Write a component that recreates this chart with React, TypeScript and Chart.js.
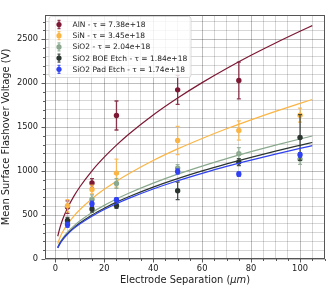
import React, { useEffect, useRef } from "react";
import { Chart, registerables } from "chart.js";

Chart.register(...registerables);

// ---- data ----
const seriesNames = [
  "AlN - τ = 7.38e+18",
  "SiN - τ = 3.45e+18",
  "SiO2 - τ = 2.04e+18",
  "SiO2 BOE Etch - τ = 1.84e+18",
  "SiO2 Pad Etch - τ = 1.74e+18",
];
const seriesColors = ["#7d1834", "#fbb545", "#8aa98e", "#2b3630", "#2f41f2"];

const alnSep = [5, 15, 25, 50, 75];
const alnV = [590, 864, 1632, 1924, 2030];
const alnErr = [70, 50, 165, 165, 210];

const sep = [5, 15, 25, 50, 75, 100];
const sinV = [605, 791, 977, 1348, 1461, 1636];
const sinErr = [70, 50, 160, 160, 110, 80];
const sio2V = [420, 680, 859, 1034, 1197, 1136];
const sio2Err = [30, 50, 55, 40, 70, 60];
const boeV = [439, 568, 606, 776, 1102, 1382];
const boeErr = [35, 35, 30, 100, 40, 260];
const padV = [390, 628, 674, 995, 966, 1185];
const padErr = [30, 30, 25, 30, 25, 25];

// fitted curves
const fitSep = [1, 2, 3, 5, 7.5, 10, 15, 20, 25, 30, 40, 50, 60, 70, 80, 90, 100, 105];
const alnFit = [259, 366, 449, 579, 709, 819, 1003, 1158, 1295, 1419, 1638, 1831, 2006, 2167, 2317, 2457, 2590, 2654];
const sinFit = [177, 250, 307, 396, 485, 560, 686, 792, 885, 969, 1120, 1252, 1371, 1481, 1583, 1679, 1770, 1814];
const sio2Fit = [137, 193, 236, 305, 374, 432, 529, 610, 683, 748, 863, 965, 1057, 1142, 1221, 1295, 1365, 1399];
const boeFit = [129, 183, 224, 289, 354, 409, 501, 578, 647, 708, 818, 914, 1002, 1082, 1156, 1227, 1293, 1325];
const padFit = [126, 178, 218, 281, 345, 398, 487, 563, 629, 689, 796, 890, 974, 1053, 1125, 1193, 1258, 1289];

const xMajorTicks = [0, 20, 40, 60, 80, 100];
const yMajorTicks = [0, 500, 1000, 1500, 2000, 2500];

const xTitleMain = "Electrode Separation (";
const xTitleUnit = "μm";
const yTitle = "Mean Surface Flashover Voltage (V)";

const FONT = "'DejaVu Sans', sans-serif";

function hexA(hex: string, a: number) {
  const n = parseInt(hex.slice(1), 16);
  return `rgba(${(n >> 16) & 255},${(n >> 8) & 255},${n & 255},${a})`;
}

const groups = [
  { x: alnSep, v: alnV, e: alnErr, fit: alnFit },
  { x: sep, v: sinV, e: sinErr, fit: sinFit },
  { x: sep, v: sio2V, e: sio2Err, fit: sio2Fit },
  { x: sep, v: boeV, e: boeErr, fit: boeFit },
  { x: sep, v: padV, e: padErr, fit: padFit },
];

const errorBarPlugin = {
  id: "errorBars",
  beforeDatasetDraw(chart: any, args: any) {
    const ds: any = chart.data.datasets[args.index];
    if (!ds.errors) return;
    const xs = chart.scales.x;
    const ys = chart.scales.y;
    const ctx = chart.ctx;
    ctx.save();
    ctx.strokeStyle = hexA(ds.baseColor, 0.85);
    ctx.lineWidth = 1.3;
    ds.data.forEach((p: any, i: number) => {
      const px = xs.getPixelForValue(p.x);
      const y1 = ys.getPixelForValue(p.y + ds.errors[i]);
      const y2 = ys.getPixelForValue(p.y - ds.errors[i]);
      ctx.beginPath();
      ctx.moveTo(px, y1);
      ctx.lineTo(px, y2);
      ctx.moveTo(px - 2, y1);
      ctx.lineTo(px + 2, y1);
      ctx.moveTo(px - 2, y2);
      ctx.lineTo(px + 2, y2);
      ctx.stroke();
    });
    ctx.restore();
  },
};

const decorPlugin = {
  id: "decor",
  afterDraw(chart: any) {
    const ctx = chart.ctx;
    const a = chart.chartArea;
    const xs = chart.scales.x;
    const ys = chart.scales.y;
    ctx.save();
    // tick marks
    ctx.strokeStyle = "#333";
    ctx.lineWidth = 0.8;
    ctx.beginPath();
    for (let v = 0; v <= 110; v += 5) {
      const px = Math.round(xs.getPixelForValue(v)) + 0.5;
      const len = v % 20 === 0 ? 3.5 : 2;
      ctx.moveTo(px, a.bottom);
      ctx.lineTo(px, a.bottom + len);
    }
    for (let v = 0; v <= 2700; v += 100) {
      const py = Math.round(ys.getPixelForValue(v)) + 0.5;
      const len = v % 500 === 0 ? 3.5 : 2;
      ctx.moveTo(a.left, py);
      ctx.lineTo(a.left - len, py);
    }
    ctx.stroke();
    // spines
    ctx.strokeStyle = "#555";
    ctx.lineWidth = 1;
    ctx.strokeRect(a.left + 0.5, a.top + 0.5, a.right - a.left - 1, a.bottom - a.top - 1);

    // x title with italic unit
    ctx.fillStyle = "#222";
    ctx.textBaseline = "middle";
    const fs = 9.9;
    ctx.font = `${fs}px ${FONT}`;
    const w1 = ctx.measureText(xTitleMain).width;
    ctx.font = `italic ${fs}px ${FONT}`;
    const w2 = ctx.measureText(xTitleUnit).width;
    ctx.font = `${fs}px ${FONT}`;
    const w3 = ctx.measureText(")").width;
    const cx = (a.left + a.right) / 2;
    let x0 = cx - (w1 + w2 + w3) / 2;
    const ty = 280.5;
    ctx.textAlign = "left";
    ctx.fillText(xTitleMain, x0, ty);
    ctx.font = `italic ${fs}px ${FONT}`;
    ctx.fillText(xTitleUnit, x0 + w1, ty);
    ctx.font = `${fs}px ${FONT}`;
    ctx.fillText(")", x0 + w1 + w2, ty);

    // y title
    ctx.save();
    ctx.translate(6.5, (a.top + a.bottom) / 2);
    ctx.rotate(-Math.PI / 2);
    ctx.textAlign = "center";
    ctx.fillText(yTitle, 0, 0);
    ctx.restore();

    // legend
    const lx = 49, ly = 16.5, lw = 142, lh = 61;
    ctx.beginPath();
    const r = 2.5;
    ctx.moveTo(lx + r, ly);
    ctx.arcTo(lx + lw, ly, lx + lw, ly + lh, r);
    ctx.arcTo(lx + lw, ly + lh, lx, ly + lh, r);
    ctx.arcTo(lx, ly + lh, lx, ly, r);
    ctx.arcTo(lx, ly, lx + lw, ly, r);
    ctx.closePath();
    ctx.fillStyle = "rgba(255,255,255,0.8)";
    ctx.fill();
    ctx.strokeStyle = "#d0d0d0";
    ctx.lineWidth = 0.8;
    ctx.stroke();
    ctx.font = `7.5px ${FONT}`;
    ctx.textAlign = "left";
    ctx.textBaseline = "middle";
    seriesNames.forEach((name, i) => {
      const yy = 24.5 + i * 11.2;
      const col = seriesColors[i];
      ctx.strokeStyle = hexA(col, 0.85);
      ctx.lineWidth = 1.3;
      ctx.beginPath();
      ctx.moveTo(59, yy - 4);
      ctx.lineTo(59, yy + 4);
      ctx.moveTo(57.5, yy - 4);
      ctx.lineTo(60.5, yy - 4);
      ctx.moveTo(57.5, yy + 4);
      ctx.lineTo(60.5, yy + 4);
      ctx.stroke();
      ctx.fillStyle = col;
      ctx.beginPath();
      ctx.arc(59, yy, 2.6, 0, Math.PI * 2);
      ctx.fill();
      ctx.fillStyle = "#222";
      ctx.fillText(name, 72.5, yy + 0.5);
    });
    ctx.restore();
  },
};

export default function App() {
  const ref = useRef<HTMLCanvasElement | null>(null);
  useEffect(() => {
    if (!ref.current) return;
    const datasets: any[] = [];
    groups.forEach((g, i) => {
      const col = seriesColors[i];
      datasets.push({
        type: "scatter",
        label: seriesNames[i],
        data: g.x.map((x, j) => ({ x, y: g.v[j] })),
        errors: g.e,
        baseColor: col,
        backgroundColor: col,
        borderColor: col,
        pointRadius: 2.7,
        pointBorderWidth: 0,
        showLine: false,
        order: 20 - i * 2,
      });
      datasets.push({
        type: "line",
        label: seriesNames[i] + " fit",
        data: fitSep.map((x, j) => ({ x, y: g.fit[j] })),
        borderColor: col,
        borderWidth: 1.2,
        pointRadius: 0,
        fill: false,
        cubicInterpolationMode: "monotone",
        order: 19 - i * 2,
      });
    });
    const chart = new Chart(ref.current, {
      type: "scatter",
      data: { datasets },
      options: {
        responsive: false,
        animation: false,
        layout: { padding: { top: 15, right: 8, left: 0, bottom: 0 } },
        plugins: { legend: { display: false }, tooltip: { enabled: false } },
        scales: {
          x: {
            type: "linear",
            min: -4.2,
            max: 110.2,
            afterFit: (s: any) => { s.height = 35; },
            afterBuildTicks: (s: any) => {
              const t = [];
              for (let v = 0; v <= 110; v += 5) t.push({ value: v });
              s.ticks = t;
            },
            ticks: {
              autoSkip: false,
              maxRotation: 0,
              padding: 5,
              color: "#222",
              font: { family: FONT, size: 8.3 },
              callback: (v: any) => (xMajorTicks.includes(Number(v)) ? String(v) : ""),
            },
            grid: {
              drawTicks: false,
              color: (c: any) => (c.tick && c.tick.value % 20 === 0 ? "rgba(0,0,0,0.32)" : "rgba(0,0,0,0.2)"),
              lineWidth: 0.8,
            },
            border: { display: false },
          },
          y: {
            type: "linear",
            min: 0,
            max: 2775,
            afterFit: (s: any) => { s.width = 45; },
            afterBuildTicks: (s: any) => {
              const t = [];
              for (let v = 0; v <= 2700; v += 100) t.push({ value: v });
              s.ticks = t;
            },
            ticks: {
              autoSkip: false,
              padding: 7,
              color: "#222",
              font: { family: FONT, size: 8.3 },
              callback: (v: any) => (yMajorTicks.includes(Number(v)) ? String(v) : ""),
            },
            grid: {
              drawTicks: false,
              color: (c: any) => (c.tick && c.tick.value % 500 === 0 ? "rgba(0,0,0,0.32)" : "rgba(0,0,0,0.2)"),
              lineWidth: 0.8,
            },
            border: { display: false },
          },
        },
      },
      plugins: [errorBarPlugin, decorPlugin],
    } as any);
    return () => chart.destroy();
  }, []);
  return (
    <div style={{ position: "fixed", left: 0, top: 0, width: 333, height: 294, background: "#fff" }}>
      <canvas ref={ref} width={333} height={294} style={{ display: "block" }} />
    </div>
  );
}
